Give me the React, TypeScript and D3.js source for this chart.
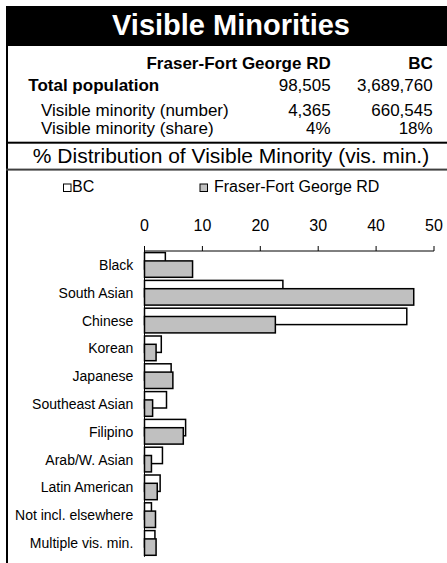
import React from "react";
import * as d3 from "d3";

const categories = [
  "Black",
  "South Asian",
  "Chinese",
  "Korean",
  "Japanese",
  "Southeast Asian",
  "Filipino",
  "Arab/W. Asian",
  "Latin American",
  "Not incl. elsewhere",
  "Multiple vis. min.",
];
const bcValues = [3.6, 23.9, 45.3, 2.9, 4.6, 3.8, 7.1, 3.1, 2.7, 1.2, 1.8];
const ffgValues = [8.3, 46.5, 22.6, 2.0, 4.9, 1.4, 6.7, 1.2, 2.2, 1.9, 2.0];
const xTicks = [0, 10, 20, 30, 40, 50];

const tableHeader = ["Fraser-Fort George RD", "BC"];
const tableRows = [
  { label: "Total population", ffg: "98,505", bc: "3,689,760", bold: true },
  { label: "Visible minority (number)", ffg: "4,365", bc: "660,545", bold: false },
  { label: "Visible minority (share)", ffg: "4%", bc: "18%", bold: false },
];
const seriesNames = ["BC", "Fraser-Fort George RD"];

const W = 447;
const H = 563;
const FONT = "'Liberation Sans', Arial, Helvetica, sans-serif";

export default function App() {
  const x = d3.scaleLinear().domain([0, 50]).range([144.5, 434]);
  const y = d3
    .scaleBand<string>()
    .domain(categories)
    .range([251, 251 + 27.8 * categories.length])
    .paddingInner(0)
    .paddingOuter(0);
  const bw = y.bandwidth();
  const barH = 16.4;
  const bcOff = 1.6;
  const ffgOff = 9.9;

  const rowBaselines = [91, 116, 134];

  return (
    <svg
      width={W}
      height={H}
      style={{ position: "absolute", left: 0, top: 0, background: "#fff" }}
      fontFamily={FONT}
    >
      <rect x={0} y={0} width={W} height={H} fill="#fff" />
      {/* Title bar */}
      <rect x={6} y={6} width={W - 6} height={40} fill="#000" />
      <text x={231} y={35} textAnchor="middle" fill="#fff" fontWeight="bold" fontSize={29}>
        Visible Minorities
      </text>
      {/* left border */}
      <rect x={6} y={46} width={2} height={H - 46} fill="#000" />

      {/* Table */}
      <text x={330.7} y={68.5} textAnchor="end" fontWeight="bold" fontSize={17}>
        {tableHeader[0]}
      </text>
      <text x={432.7} y={68.5} textAnchor="end" fontWeight="bold" fontSize={17}>
        {tableHeader[1]}
      </text>
      {tableRows.map((r, i) => (
        <g key={r.label} fontSize={17}>
          <text x={r.bold ? 28.3 : 41} y={rowBaselines[i]} fontWeight={r.bold ? "bold" : "normal"}>
            {r.label}
          </text>
          <text x={330.7} y={rowBaselines[i]} textAnchor="end">
            {r.ffg}
          </text>
          <text x={432.7} y={rowBaselines[i]} textAnchor="end">
            {r.bc}
          </text>
        </g>
      ))}
      <rect x={6} y={141.7} width={W - 6} height={2} fill="#000" />
      <text x={231} y={163} textAnchor="middle" fontSize={21}>
        % Distribution of Visible Minority (vis. min.)
      </text>
      <rect x={6} y={168.6} width={W - 6} height={2} fill="#404040" />

      {/* Legend */}
      <rect x={63.5} y={184} width={7.5} height={7.5} fill="#fff" stroke="#000" strokeWidth={1} />
      <text x={72} y={192} fontSize={16}>
        {seriesNames[0]}
      </text>
      <rect x={200} y={184} width={7.5} height={7.5} fill="#c0c0c0" stroke="#000" strokeWidth={1} />
      <text x={214} y={192} fontSize={16}>
        {seriesNames[1]}
      </text>

      {/* X axis on top */}
      <line x1={x(0)} x2={x(50)} y1={251} y2={251} stroke="#000" strokeWidth={1} />
      {xTicks.map((t) => (
        <g key={t}>
          <line x1={x(t)} x2={x(t)} y1={246} y2={251} stroke="#000" strokeWidth={1} />
          <text x={x(t)} y={230.7} textAnchor="middle" fontSize={16}>
            {t}
          </text>
        </g>
      ))}

      {/* Bars */}
      {categories.map((c, i) => {
        const y0 = y(c)!;
        return (
          <g key={c}>
            <rect
              x={x(0)}
              y={y0 + bcOff}
              width={x(bcValues[i]) - x(0)}
              height={barH}
              fill="#fff"
              stroke="#000"
              strokeWidth={1.5}
            />
            <rect
              x={x(0)}
              y={y0 + ffgOff}
              width={x(ffgValues[i]) - x(0)}
              height={barH}
              fill="#c0c0c0"
              stroke="#000"
              strokeWidth={1.5}
            />
            <text x={133.3} y={y0 + bw / 2 + 5} textAnchor="end" fontSize={14}>
              {c}
            </text>
          </g>
        );
      })}
      {/* Y axis */}
      <line x1={x(0)} x2={x(0)} y1={251} y2={251 + 27.8 * categories.length} stroke="#000" strokeWidth={1} />
    </svg>
  );
}
